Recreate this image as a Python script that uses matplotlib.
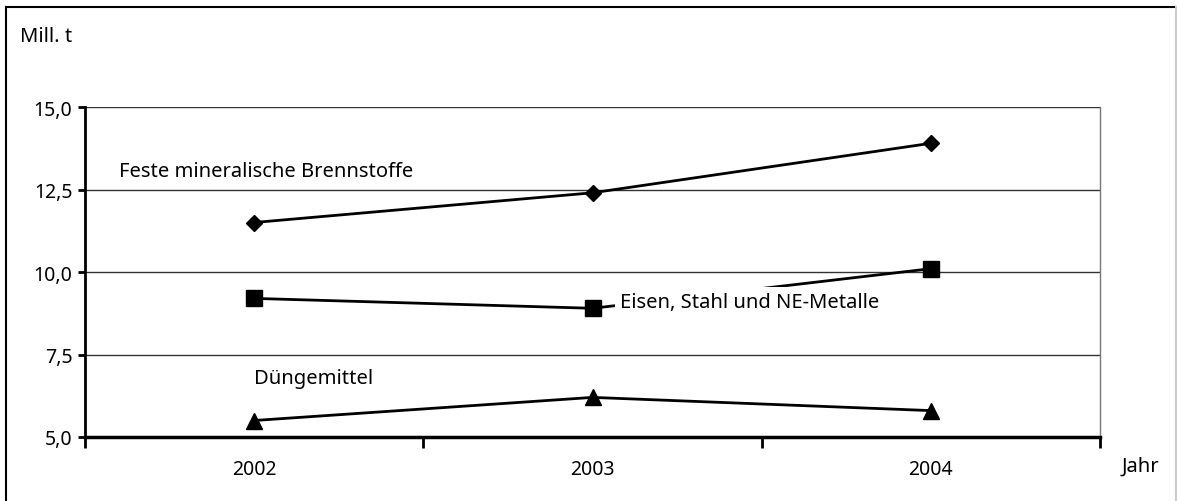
import matplotlib.pyplot as plt
from matplotlib.lines import Line2D

years = ['2002', '2003', '2004']
brennstoffe = [11.5, 12.4, 13.9]
eisen_stahl = [9.2, 8.9, 10.1]
duengemittel = [5.5, 6.2, 5.8]
y_ticks = [5.0, 7.5, 10.0, 12.5, 15.0]
y_tick_labels = ['5,0', '7,5', '10,0', '12,5', '15,0']

plt.rcParams['font.family'] = ['Noto Sans', 'DejaVu Sans']
plt.rcParams['font.size'] = 14

fig = plt.figure(figsize=(11.77, 5.02), dpi=100)
ax = fig.add_axes([85 / 1177, 1 - 438 / 502, (1100 - 85) / 1177, (438 - 108) / 502])

x = range(len(years))
ax.plot(x, brennstoffe, color='black', lw=2, marker='D', ms=8, zorder=3)
ax.plot(x, eisen_stahl, color='black', lw=2, marker='s', ms=11, zorder=3)
ax.plot(x, duengemittel, color='black', lw=2, marker='^', ms=11, zorder=3)

ax.set_xlim(-0.5, 2.5)
ax.set_ylim(5.0, 15.0)
ax.set_yticks(y_ticks)
ax.set_yticklabels(y_tick_labels)
ax.set_xticks([-0.5, 0.5, 1.5, 2.5])
ax.set_xticklabels([])
ax.set_xticks(list(x), minor=True)
ax.set_xticklabels(years, minor=True)
ax.tick_params(axis='x', which='minor', length=0, pad=16)
ax.tick_params(axis='x', which='major', direction='out', length=8, width=2)
ax.tick_params(axis='y', direction='out', length=5, width=2, pad=4)
ax.grid(axis='y', color='#333333', lw=1)
ax.set_axisbelow(True)

ax.spines['top'].set_visible(False)
ax.spines['left'].set_linewidth(2)
ax.spines['bottom'].set_linewidth(2.5)
ax.spines['right'].set_color('#777777')
ax.spines['right'].set_linewidth(1)

ax.text(-0.4, 13.05, 'Feste mineralische Brennstoffe', fontsize=14.5, va='center', ha='left')
ax.text(1.08, 9.1, 'Eisen, Stahl und NE-Metalle', fontsize=14.5, va='center', ha='left',
        bbox=dict(facecolor='white', edgecolor='none', pad=3), zorder=4)
ax.text(0.0, 6.8, 'Düngemittel', fontsize=14.5, va='center', ha='left')

fig.text(20 / 1177, 1 - 37 / 502, 'Mill. t', fontsize=14.5, va='center', ha='left')
fig.text(1122 / 1177, 1 - 467 / 502, 'Jahr', fontsize=14.5, va='center', ha='left')

# outer frame: black on left and top, light grey on the right
fig.add_artist(Line2D([6 / 1177, 6 / 1177], [0, 1 - 8 / 502], color='black', lw=1.5, transform=fig.transFigure))
fig.add_artist(Line2D([6 / 1177, 1176 / 1177], [1 - 8 / 502, 1 - 8 / 502], color='black', lw=1.5, transform=fig.transFigure))
fig.add_artist(Line2D([1176 / 1177, 1176 / 1177], [0, 1 - 8 / 502], color='#cccccc', lw=1.5, transform=fig.transFigure))

fig.savefig('out.png', dpi=100)
